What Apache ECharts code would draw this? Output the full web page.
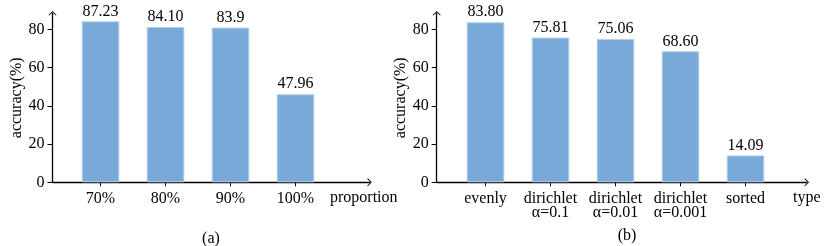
<!DOCTYPE html>
<html><head><meta charset="utf-8">
<script src="https://cdn.jsdelivr.net/npm/echarts@6/dist/echarts.min.js"></script>
<style>html,body{margin:0;padding:0;background:#fff}#c{width:830px;height:246px}</style>
</head><body><div id="c"></div>
<script>
const leftCategories = ['70%', '80%', '90%', '100%'];
const leftBarValues = [84.3, 81.3, 81.0, 46.1];
const leftBarLabels = ['87.23', '84.10', '83.9', '47.96'];
const rightCategories = ['evenly', 'dirichlet\nα=0.1', 'dirichlet\nα=0.01', 'dirichlet\nα=0.001', 'sorted'];
const rightBarValues = [83.80, 75.81, 75.06, 68.60, 14.09];
const yTickValues = [0, 20, 40, 60, 80];
const leftXName = 'proportion';
const rightXName = 'type';
const yName = 'accuracy(%)';
const subTitles = ['(a)', '(b)'];

const FONT = 'Liberation Serif';
const FS = 16;
const BAR = '#78a9d8';
const YMAX = 88.5;
const TOP = 13.3, H = 169;
const chevron = 'path://M0,10 L10,0 L20,10 L18.4,11.6 L10,3.2 L1.6,11.6 Z';

function axisGrid(left, width) { return {left: left, top: TOP, width: width, height: H}; }
function visibleY(gridIndex) {
  return {
    type: 'value', gridIndex: gridIndex, min: 0, max: YMAX,
    name: yName, nameLocation: 'middle', nameGap: 28,
    nameTextStyle: {fontFamily: FONT, fontSize: FS, color: '#000'},
    axisLine: {show: true, lineStyle: {color: '#000', width: 1.3}, symbol: ['none', chevron], symbolSize: [8, 5]},
    axisTick: {show: true, length: 5, lineStyle: {color: '#000', width: 1}, customValues: yTickValues},
    axisLabel: {fontFamily: FONT, fontSize: FS, color: '#000', margin: 8, customValues: yTickValues},
    splitLine: {show: false}
  };
}
function hiddenY(gridIndex) {
  return {type: 'value', gridIndex: gridIndex, min: 0, max: YMAX, show: false, splitLine: {show: false}};
}
function lineX(gridIndex, name, nameGap) {
  return {
    type: 'value', gridIndex: gridIndex, min: 0, max: 1,
    name: name, nameLocation: 'end', nameGap: nameGap,
    nameTextStyle: {fontFamily: FONT, fontSize: FS, color: '#000', align: 'left', verticalAlign: 'top', padding: [7, 0, 0, 0]},
    axisLine: {show: true, lineStyle: {color: '#000', width: 1.3}, symbol: ['none', chevron], symbolSize: [8, 5]},
    axisTick: {show: false}, axisLabel: {show: false}, splitLine: {show: false}
  };
}
function catX(gridIndex, cats) {
  return {
    type: 'category', gridIndex: gridIndex, data: cats,
    axisLine: {show: false},
    axisTick: {show: true, alignWithLabel: true, length: 4, lineStyle: {color: '#000', width: 1}},
    axisLabel: {fontFamily: FONT, fontSize: FS, color: '#000', margin: 9, lineHeight: 14.5, interval: 0}
  };
}
function barSeries(xi, yi, values, labels) {
  return {
    type: 'bar', xAxisIndex: xi, yAxisIndex: yi, data: values, barWidth: 37.6,
    itemStyle: {color: BAR, borderColor: '#b3cfeb', borderWidth: 1},
    label: {show: true, position: 'top', distance: 2, fontFamily: FONT, fontSize: FS, color: '#000',
      formatter: function (p) { return labels ? labels[p.dataIndex] : p.value.toFixed(2); }},
    animation: false
  };
}

const chart = echarts.init(document.getElementById('c'), null, {renderer: 'canvas'});
chart.setOption({
  animation: false,
  title: [
    {text: subTitles[0], left: 206, top: 226, textAlign: 'center', textStyle: {fontFamily: FONT, fontSize: FS, fontWeight: 'normal', color: '#000'}},
    {text: subTitles[1], left: 622, top: 223, textAlign: 'center', textStyle: {fontFamily: FONT, fontSize: FS, fontWeight: 'normal', color: '#000'}}
  ],
  grid: [axisGrid(52.5, 317), axisGrid(68, 260), axisGrid(436.7, 370), axisGrid(453, 325)],
  xAxis: [lineX(0, leftXName, -39.5), catX(1, leftCategories), lineX(2, rightXName, -13.7), catX(3, rightCategories)],
  yAxis: [visibleY(0), hiddenY(1), visibleY(2), hiddenY(3)],
  series: [barSeries(1, 1, leftBarValues, leftBarLabels), barSeries(3, 3, rightBarValues, null)]
});
</script></body></html>
